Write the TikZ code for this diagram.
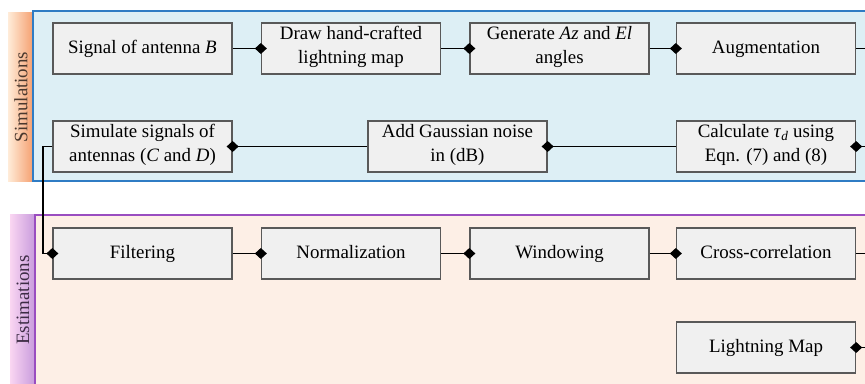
\documentclass[tikz,border=0pt]{standalone}
\usepackage{fontspec}
\setmainfont{Liberation Serif}
\usetikzlibrary{arrows.meta}
\definecolor{simfill}{HTML}{DDEFF5}
\definecolor{simedge}{HTML}{2F7CC4}
\definecolor{estfill}{HTML}{FDEFE6}
\definecolor{estedge}{HTML}{9A4DC0}
\definecolor{boxfill}{HTML}{F0F0F0}
\definecolor{boxedge}{HTML}{595959}
\tikzset{
  x=1pt, y=-1pt,
  stepbox/.style={draw=boxedge, fill=boxfill, line width=1.3pt, minimum width=179pt, minimum height=51pt,
    inner sep=0pt, align=center, font=\fontsize{18.9}{24}\selectfont,
    execute at begin node=\strut, execute at end node=\strut},
  conn/.style={line width=1.7pt, draw=black, -{Diamond[length=12pt,width=11pt]}},
  plainconn/.style={line width=1.7pt, draw=black},
  bandtext/.style={rotate=90, font=\fontsize{18.9}{24}\selectfont},
}
\begin{document}
\begin{tikzpicture}
\useasboundingbox (0,0) rectangle (865,383);
% Simulations panel
\shade[left color=orange!15!white, right color={rgb,255:red,245;green,160;blue,112}] (8,12) rectangle (33,181);
\fill[simfill] (33,11) rectangle (867,181);
\draw[simedge, line width=2pt] (867,11) -- (33,11) -- (33,181) -- (867,181);
\node[bandtext, text={rgb,255:red,74;green,56;blue,46}] (simlab) at (21,97) {Simulations};
% Estimations panel
\shade[left color={rgb,255:red,250;green,214;blue,242}, right color={rgb,255:red,200;green,155;blue,221}] (10,214) rectangle (35,385);
\fill[estfill] (35,215) rectangle (867,385);
\draw[estedge, line width=2pt] (867,215) -- (35,215) -- (35,385);
\node[bandtext, text={rgb,255:red,61;green,44;blue,69}] (estlab) at (23,300) {Estimations};
% Row 1
\node[stepbox] (sigB) at (142.5,48.5) {Signal of antenna \textit{B}};
\node[stepbox] (draw) at (351,48.5) {Draw hand-crafted\\lightning map};
\node[stepbox] (gen) at (559.5,48.5) {Generate \textit{Az} and \textit{El}\\angles};
\node[stepbox] (aug) at (766,48.5) {Augmentation};
% Row 2
\node[stepbox] (simu) at (142.5,146.5) {Simulate signals of\\antennas (\textit{C} and \textit{D})};
\node[stepbox] (noise) at (457.5,146.5) {Add Gaussian noise\\in (dB)};
\node[stepbox] (calc) at (766,146.5) {Calculate \textit{τ}\textsubscript{\textit{d}} using\\Eqn. (7) and (8)};
% Row 3
\node[stepbox] (filt) at (142.5,253.5) {Filtering};
\node[stepbox] (norm) at (351,253.5) {Normalization};
\node[stepbox] (win) at (559.5,253.5) {Windowing};
\node[stepbox] (xcor) at (766,253.5) {Cross-correlation};
% Row 4
\node[stepbox] (lmap) at (766,347.5) {Lightning Map};
% coordinates at right edge
\coordinate (augout) at (866,48.5);
\coordinate (calcin) at (866,146.5);
\coordinate (xcorout) at (866,253.5);
\coordinate (lmapin) at (866,347.5);
\coordinate (bendA) at (43,146.5);
\coordinate (bendB) at (43,253.5);
% connectors
\draw[conn] (sigB.east) -- ([xshift=6pt]draw.west);
\draw[conn] (draw.east) -- ([xshift=6pt]gen.west);
\draw[conn] (gen.east) -- ([xshift=6pt]aug.west);
\draw[plainconn] (aug.east) -- (augout);
\draw[conn] (calcin) -- ([xshift=-6pt]calc.east);
\draw[conn] (calc.west) -- ([xshift=-6pt]noise.east);
\draw[conn] (noise.west) -- ([xshift=-6pt]simu.east);
\draw[conn] (simu.west) -- (bendA) -- (bendB) -- ([xshift=6pt]filt.west);
\draw[conn] (filt.east) -- ([xshift=6pt]norm.west);
\draw[conn] (norm.east) -- ([xshift=6pt]win.west);
\draw[conn] (win.east) -- ([xshift=6pt]xcor.west);
\draw[plainconn] (xcor.east) -- (xcorout);
\draw[conn] (lmapin) -- ([xshift=-6pt]lmap.east);
\end{tikzpicture}
\end{document}
